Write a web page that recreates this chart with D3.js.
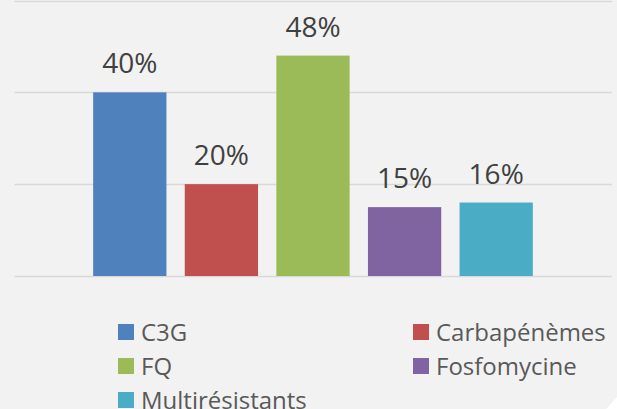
<!DOCTYPE html>
<html>
<head>
<meta charset="utf-8">
<script src="https://cdn.jsdelivr.net/npm/d3@7"></script>
<style>
  html, body { margin: 0; padding: 0; background: #ffffff; }
  svg { display: block; }
</style>
</head>
<body>
<div id="main"></div>
<script>
'use strict'

// chart data
let series = ["C3G", "Carbapénèmes", "FQ", "Fosfomycine", "Multirésistants"];
let values = [40, 20, 48, 15, 16];
let colors = ["#4f81bd", "#c0504d", "#9bbb59", "#8064a2", "#4bacc6"];
let gridTicks = [0, 20, 40, 60];

document.addEventListener('DOMContentLoaded', function(){
  drawBarChart();
});

function drawBarChart(){

  let svgWidth = 617;
  let svgHeight = 409;

  let svg = d3.select('#main')
    .append('svg')
    .attr('width', svgWidth)
    .attr('height', svgHeight);

  // background
  svg.append('rect')
    .attr('width', svgWidth)
    .attr('height', svgHeight)
    .attr('fill', '#f2f2f2');

  // bevelled corner bottom right
  svg.append('path')
    .attr('d', 'M606,409 L617,397 L617,409 Z')
    .attr('fill', '#ffffff');

  let xScale = d3.scaleBand()
    .domain(series)
    .range([84, 542])
    .paddingInner(0.2)
    .paddingOuter(0.1);

  let yScale = d3.scaleLinear()
    .domain([0, 60])
    .range([276, 0.5]);

  // gridlines
  svg.selectAll('line.grid')
    .data(gridTicks)
    .enter()
    .append('line')
    .attr('class', 'grid')
    .attr('x1', 14.5)
    .attr('x2', 612)
    .attr('y1', d => Math.round(yScale(d)) + 0.5)
    .attr('y2', d => Math.round(yScale(d)) + 0.5)
    .attr('stroke', '#d9d9d9')
    .attr('stroke-width', 1.5);

  // bars
  svg.selectAll('rect.bar')
    .data(values)
    .enter()
    .append('rect')
    .attr('class', 'bar')
    .attr('x', (d, i) => xScale(series[i]))
    .attr('y', d => yScale(d))
    .attr('width', xScale.bandwidth())
    .attr('height', d => yScale(0) - yScale(d))
    .attr('fill', (d, i) => colors[i]);

  // value labels
  svg.selectAll('text.label')
    .data(values)
    .enter()
    .append('text')
    .attr('class', 'label')
    .attr('x', (d, i) => xScale(series[i]) + xScale.bandwidth() / 2)
    .attr('y', d => yScale(d) - 19)
    .attr('text-anchor', 'middle')
    .attr('font-family', '"Open Sans", sans-serif')
    .attr('font-size', '28px')
    .attr('fill', '#404040')
    .text(d => d + '%');

  // legend, two columns
  let legend = svg.selectAll('g.legend')
    .data(series)
    .enter()
    .append('g')
    .attr('class', 'legend')
    .attr('transform', (d, i) => {
      let col = i % 2;
      let row = Math.floor(i / 2);
      return 'translate(' + (col === 0 ? 118 : 413) + ',' + (324 + row * 34) + ')';
    });

  legend.append('rect')
    .attr('width', 16)
    .attr('height', 16)
    .attr('fill', (d, i) => colors[i]);

  legend.append('text')
    .attr('x', 23)
    .attr('y', 17)
    .attr('font-family', '"Open Sans", sans-serif')
    .attr('font-size', '24px')
    .attr('fill', '#595959')
    .text(d => d);
}
</script>
</body>
</html>
